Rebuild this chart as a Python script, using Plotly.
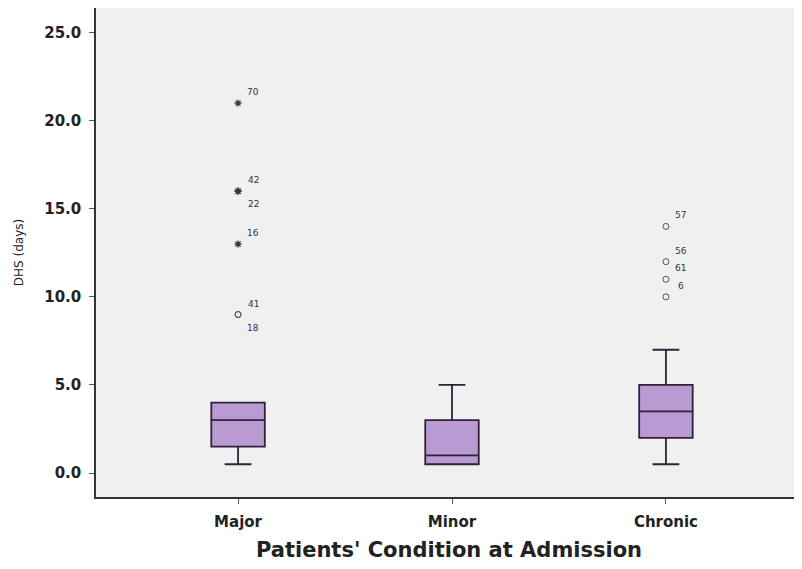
import plotly.graph_objects as go

categories = ["Major", "Minor", "Chronic"]
q1 = [1.5, 0.5, 2.0]
median = [3.0, 1.0, 3.5]
q3 = [4.0, 3.0, 5.0]
lower_whisker = [0.5, 0.5, 0.5]
upper_whisker = [4.0, 5.0, 7.0]

# outliers: (category, value, case label, label placement)
extreme_cat = ["Major", "Major", "Major", "Major"]
extreme_val = [21.0, 16.0, 16.0, 13.0]
extreme_lbl = ["70", "42", "22", "16"]
extreme_pos = ["above", "above", "below", "above"]

outlier_cat = ["Major", "Major", "Chronic", "Chronic", "Chronic", "Chronic"]
outlier_val = [9.0, 9.0, 14.0, 12.0, 11.0, 10.0]
outlier_lbl = ["41", "18", "57", "56", "61", "6"]
outlier_pos = ["above", "below", "above", "above", "above", "above"]

y_ticks = [0, 5, 10, 15, 20, 25]

FILL = "#b99ad3"
EDGE = "#2e2238"
FONT = "DejaVu Sans, Verdana, sans-serif"

fig = go.Figure()
for i, c in enumerate(categories):
    fig.add_trace(go.Box(
        x=[c], q1=[q1[i]], median=[median[i]], q3=[q3[i]],
        lowerfence=[lower_whisker[i]], upperfence=[upper_whisker[i]],
        fillcolor=FILL, line=dict(color=EDGE, width=1.8),
        width=0.25, whiskerwidth=0.5, boxpoints=False, showlegend=False,
        hoverinfo="skip",
    ))

fig.add_trace(go.Scatter(
    x=extreme_cat, y=extreme_val, mode="markers",
    marker=dict(symbol="asterisk-open", size=6, color="#333333",
                line=dict(color="#333333", width=1.2)),
    showlegend=False, hoverinfo="skip",
))
fig.add_trace(go.Scatter(
    x=outlier_cat, y=outlier_val, mode="markers",
    marker=dict(symbol="circle-open", size=6, color="#555555",
                line=dict(color="#555555", width=1)),
    showlegend=False, hoverinfo="skip",
))

for cats, vals, lbls, poss in [(extreme_cat, extreme_val, extreme_lbl, extreme_pos),
                               (outlier_cat, outlier_val, outlier_lbl, outlier_pos)]:
    for c, v, l, p in zip(cats, vals, lbls, poss):
        fig.add_annotation(
            x=c, y=v, text=l, showarrow=False,
            xshift=15, yshift=11 if p == "above" else -13,
            font=dict(family=FONT, size=9, color="#333333"),
        )

fig.update_layout(
    width=794, height=561,
    margin=dict(l=88, r=0, t=0, b=72),
    paper_bgcolor="white", plot_bgcolor="#f0f0f0",
    font=dict(family=FONT, color="#222222"),
)
fig.update_xaxes(
    type="category", categoryorder="array", categoryarray=categories,
    range=[-0.664, 2.636],
    showline=True, linecolor="#333333", linewidth=1.5,
    ticks="outside", ticklen=5, tickcolor="#555555",
    ticklabelstandoff=5,
    showgrid=False, zeroline=False,
    tickfont=dict(family=FONT, size=15, color="#222222", weight="bold"),
    title=dict(text="Patients' Condition at Admission",
               font=dict(family=FONT, size=21, color="#222222", weight="bold"),
               standoff=13),
)
fig.update_yaxes(
    range=[-1.36, 26.4], tickvals=y_ticks, tickformat=".1f",
    showline=True, linecolor="#333333", linewidth=1.5,
    ticks="outside", ticklen=5, tickcolor="#555555",
    ticklabelstandoff=5,
    showgrid=False, zeroline=False,
    tickfont=dict(family=FONT, size=15, color="#222222", weight="bold"),
    title=dict(text="DHS (days)",
               font=dict(family=FONT, size=12, color="#222222"),
               standoff=18),
)

fig.write_html("out.html")
